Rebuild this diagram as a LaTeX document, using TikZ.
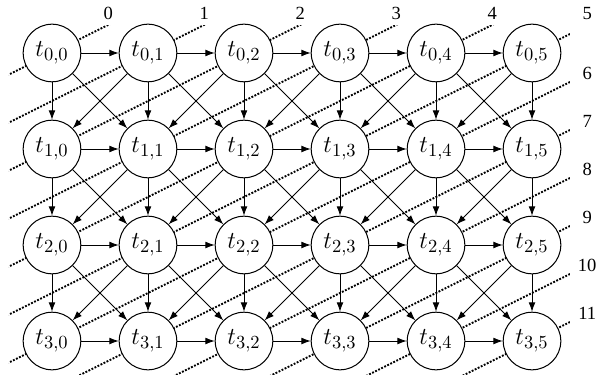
\documentclass[tikz,border=0pt]{standalone}
\usepackage[no-math]{fontspec}
\usepackage{tikz}
\usetikzlibrary{arrows.meta}
\newfontfamily\wavefont{Liberation Serif}
\tikzset{
	cell/.style={circle, draw, fill=white, line width=0.6pt,
		minimum size=1.2cm, inner sep=0pt,
		font=\fontsize{15.5}{18}\selectfont},
	flow/.style={->, line width=0.5pt},
	wave/.style={line width=1.1pt, dash pattern=on 1.1pt off 0.9pt},
	tick/.style={font=\wavefont\fontsize{11}{13}\selectfont, inner sep=0pt}
}

\begin{document}
\begin{tikzpicture}[>={Latex[length=5.5pt,width=4pt]}]
	\useasboundingbox (-1.083,-6.708) rectangle (11.333,1.104);
	\begin{scope}
		\clip (-0.9,-6.8) rectangle (10.79,0.583);
		\foreach \k in {0,...,11}
			\draw[wave] (-1,{-0.5-\k}) -- (12,{6-\k});
	\end{scope}
	\foreach \i in {0,...,3}
		\foreach \j in {0,...,5}
			\node[cell] (t\i\j) at (2*\j,-2*\i) {$t_{\i,\j}$};
	\foreach \i in {0,...,3}
		\foreach \j [count=\m from 1] in {0,...,4}
			\draw[flow] (t\i\j) -- (t\i\m);
	\foreach \i [count=\n from 1] in {0,...,2} {
		\foreach \j in {0,...,5}
			\draw[flow] (t\i\j) -- (t\n\j);
		\foreach \j [count=\m from 1] in {0,...,4}
			\draw[flow] (t\i\j) -- (t\n\m);
		\foreach \j [count=\m from 0] in {1,...,5}
			\draw[flow] (t\i\j) -- (t\n\m);
	}
	\foreach \k in {0,...,5}
		\node[tick] (w\k) at ({min(2*\k+1.17,11.15)},0.83) {\k};
	\foreach \k in {6,...,11}
		\node[tick] (w\k) at (11.15,{5.57-\k}) {\k};
\end{tikzpicture}
\end{document}
